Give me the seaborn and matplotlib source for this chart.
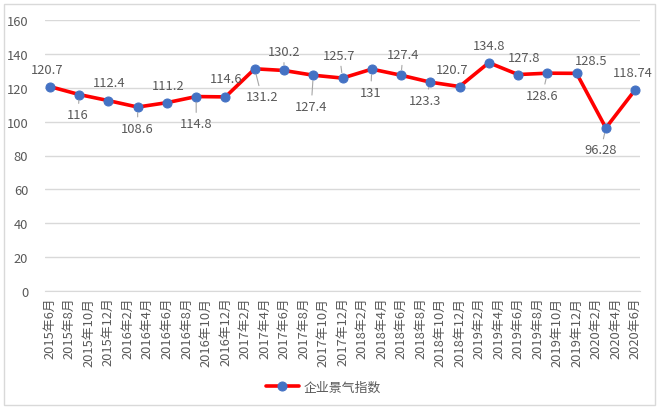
import seaborn as sns
import pandas as pd
import matplotlib.pyplot as plt
from matplotlib.patches import Rectangle

# 数据：季度企业景气指数（2015年6月 - 2020年6月）
months = list(range(0, 61, 3))  # 距2015年6月的月数
values = [120.7, 116, 112.4, 108.6, 111.2, 114.8, 114.6, 131.2, 130.2, 127.4, 125.7,
          131, 127.4, 123.3, 120.7, 134.8, 127.8, 128.6, 128.5, 96.28, 118.74]
value_labels = ["120.7", "116", "112.4", "108.6", "111.2", "114.8", "114.6", "131.2", "130.2",
                "127.4", "125.7", "131", "127.4", "123.3", "120.7", "134.8", "127.8", "128.6",
                "128.5", "96.28", "118.74"]
tick_labels = []
for i in range(0, 61, 2):
    y = 2015 + (5 + i) // 12
    m = (5 + i) % 12 + 1
    tick_labels.append(f"{y}年{m}月")
series_name = "企业景气指数"

df = pd.DataFrame({"month": months, "value": values})

sns.set_style("white")
plt.rcParams['font.family'] = ['Noto Sans CJK SC', 'DejaVu Sans']
gray = "#595959"

fig = plt.figure(figsize=(6.6, 4.14), dpi=100)
ax = fig.add_axes([45 / 660, 1 - 292 / 414, 595 / 660, 271 / 414])

# 外框
fig.patches.append(Rectangle((4 / 660, 1 - 406 / 414), 651 / 660, 401 / 414,
                             transform=fig.transFigure, fill=False,
                             edgecolor="#d9d9d9", linewidth=1))

sns.lineplot(data=df, x="month", y="value", ax=ax, color="#ff0000", linewidth=2.6,
             marker="o", markersize=6.5, markerfacecolor="#4472c4",
             markeredgecolor="#4472c4", label=series_name, zorder=3)

ax.set_xlim(-0.5, 60.5)
ax.set_ylim(0, 160)
ax.set_yticks(range(0, 161, 20))
ax.set_xticks(range(0, 61, 2))
ax.set_xticklabels(tick_labels, rotation=90, fontsize=9.3, color=gray)
ax.set_xticks([x - 0.5 for x in range(0, 62, 2)], minor=True)
ax.tick_params(axis="x", which="major", length=0, pad=4)
ax.tick_params(axis="x", which="minor", length=4, color="#d9d9d9", direction="out")
ax.tick_params(axis="y", length=0, labelsize=9.3, labelcolor=gray, pad=12)
ax.grid(axis="y", color="#d9d9d9", linewidth=1)
for s in ["top", "right", "left"]:
    ax.spines[s].set_visible(False)
ax.spines["bottom"].set_color("#d9d9d9")
ax.set_xlabel("")
ax.set_ylabel("")

# 数据标签 (偏移像素, 是否有引导线)
offsets = [(-3, 17, 0), (-1, -20, 1), (1, 18, 0), (0, -21, 1), (1, 17, 0), (0, -27, 1),
           (1, 18, 0), (7, -28, 1), (0, 19, 1), (-2, -31, 1), (-3, 23, 1), (-1, -23, 1),
           (2, 21, 1), (-5, -18, 1), (-7, 17, 0), (0, 17, 0), (6, 17, 0), (-5, -22, 1),
           (15, 13, 0), (-5, -22, 1), (-2, 17, 0)]
for x, y, t, (dx, dy, lead) in zip(months, values, value_labels, offsets):
    kw = {}
    if lead:
        kw["arrowprops"] = dict(arrowstyle="-", color="#a6a6a6", lw=0.8,
                                shrinkA=1, shrinkB=4)
    ax.annotate(t, (x, y), xytext=(dx, dy), textcoords="offset pixels",
                ha="center", va="center", fontsize=9.3, color=gray, **kw)

ax.get_legend().remove()
h, l = ax.get_legend_handles_labels()
fig.legend(h, l, loc="center", bbox_to_anchor=(323 / 660, 1 - 388 / 414), frameon=False,
           fontsize=9.3, labelcolor=gray, handlelength=2.6, handletextpad=0.3)

fig.savefig("out.png", dpi=100)
